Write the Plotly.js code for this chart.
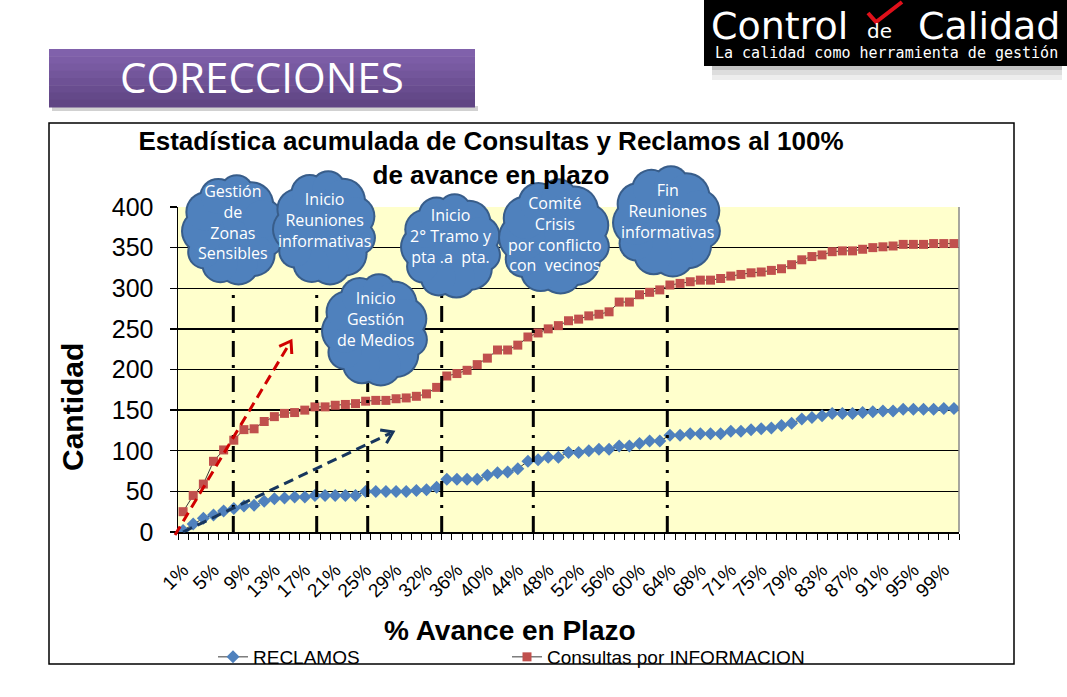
<!DOCTYPE html>
<html><head><meta charset="utf-8">
<script src="https://cdn.plot.ly/plotly-3.0.1.min.js"></script>
<style>html,body{margin:0;padding:0;background:#fff;}#chart{width:1067px;height:697px;}</style>
</head><body><div id="chart"></div>
<script>
// ---------- DATA ----------
const categories = ["1%","2%","4%","5%","6%","8%","9%","10%","12%","13%","14%","16%","17%","18%","20%","21%","22%","24%","25%","26%","28%","29%","30%","31%","32%","33%","35%","36%","37%","39%","40%","41%","43%","44%","45%","47%","48%","49%","51%","52%","53%","55%","56%","57%","59%","60%","61%","63%","64%","65%","67%","68%","69%","70%","71%","72%","74%","75%","76%","78%","79%","80%","82%","83%","84%","86%","87%","88%","90%","91%","92%","94%","95%","96%","98%","99%","100%"];
const reclamos = [2,10,17,21,26,29,32,33,38,41,42,43,43,45,45,45,45,45,50,50,50,50,50,51,52,55,65,65,65,65,70,73,74,78,87,89,92,92,98,98,100,102,102,106,106,109,112,112,119,119,121,121,121,121,124,124,126,127,128,131,134,139,141,143,146,146,146,147,148,149,149,151,151,151,151,152,152];
const consultas = [25,45,59,87,101,113,126,127,136,142,146,147,150,154,154,156,157,158,161,162,162,164,165,167,170,178,192,195,199,206,214,224,224,230,240,245,250,254,260,262,266,268,271,283,283,292,295,298,304,306,308,310,310,312,315,317,319,320,322,324,329,335,339,341,345,346,346,348,350,351,352,354,354,354,355,355,355];
const shownLabels = ["1%","5%","9%","13%","17%","21%","25%","29%","32%","36%","40%","44%","48%","52%","56%","60%","64%","68%","71%","75%","79%","83%","87%","91%","95%","99%"];
const seriesNames = ["RECLAMOS","Consultas por INFORMACION"];
const chartTitle = "Estadística acumulada de Consultas y Reclamos al 100%<br>de avance en plazo";
const xTitle = "% Avance en Plazo";
const yTitle = "Cantidad";
const cloudTexts = ["Gestión<br>de<br>Zonas<br>Sensibles","Inicio<br>Reuniones<br>informativas","Inicio<br>Gestión<br>de Medios","Inicio<br>2° Tramo y<br>pta .a  pta.","Comité<br>Crisis<br>por conflicto<br>con  vecinos","Fin<br>Reuniones<br>informativas"];

// ---------- GEOMETRY HELPERS (pixel -> paper) ----------
const PL=178, PR=959, PT=207, PB=532;
function px(x){return (x-PL)/(PR-PL);}
function py(y){return (PB-y)/(PB-PT);}
function rect(x0,y0,x1,y1,fill,line,opacity){
  return {type:'rect',xref:'paper',yref:'paper',x0:px(x0),x1:px(x1),y0:py(y1),y1:py(y0),
    fillcolor:fill||'rgba(0,0,0,0)',line:line||{width:0},opacity:opacity==null?1:opacity,layer:'above'};
}
function ell(cx,cy,rx,ry,fill){
  return {type:'circle',xref:'paper',yref:'paper',x0:px(cx-rx),x1:px(cx+rx),y0:py(cy+ry),y1:py(cy-ry),
    fillcolor:fill,line:{width:0},layer:'above'};
}
function cloud(b,fill,border){
  const [x0,y0,x1,y1]=b, cx=(x0+x1)/2, cy=(y0+y1)/2, rx=(x1-x0)/2, ry=(y1-y0)/2;
  const r=Math.min(rx,ry)*0.36, N=11, cs=[{cx,cy,rx:rx-r*0.55,ry:ry-r*0.55}];
  for(let k=0;k<N;k++){
    const a=2*Math.PI*k/N+0.25, rr=r*(0.85+0.3*((k*7)%4)/3);
    cs.push({cx:cx+(rx-rr)*Math.cos(a),cy:cy+(ry-rr)*Math.sin(a),rx:rr,ry:rr});
  }
  const out=[];
  cs.forEach(c=>out.push(ell(c.cx,c.cy,c.rx+2,c.ry+2,border)));
  cs.forEach(c=>out.push(ell(c.cx,c.cy,c.rx,c.ry,fill)));
  return out;
}
function arrow(x0,y0,x1,y1,color){
  const dx=x1-x0, dy=y1-y0, L=Math.hypot(dx,dy), ux=dx/L, uy=dy/L, h=13, t=0.6;
  const a1=[x1-h*(ux*Math.cos(t)-uy*Math.sin(t)), y1-h*(uy*Math.cos(t)+ux*Math.sin(t))];
  const a2=[x1-h*(ux*Math.cos(-t)-uy*Math.sin(-t)), y1-h*(uy*Math.cos(-t)+ux*Math.sin(-t))];
  return [
    {type:'line',xref:'paper',yref:'paper',x0:px(x0),y0:py(y0),x1:px(x1-ux*3),y1:py(y1-uy*3),line:{color,width:3,dash:'10px,6px'},layer:'above'},
    {type:'path',xref:'paper',yref:'paper',path:`M${px(a1[0])},${py(a1[1])} L${px(x1)},${py(y1)} L${px(a2[0])},${py(a2[1])}`,line:{color,width:3},layer:'above'}
  ];
}

// ---------- TRACES ----------
const traces = [
  {x:categories,y:reclamos,name:seriesNames[0],type:'scatter',mode:'lines+markers',legend:'legend',
   line:{color:'#3a3a3a',width:1},marker:{symbol:'diamond',size:10,color:'#4F81BD'}},
  {x:categories,y:consultas,name:seriesNames[1],type:'scatter',mode:'lines+markers',legend:'legend2',
   line:{color:'#3a3a3a',width:1},marker:{symbol:'square',size:9,color:'#C0504D'}}
];

// ---------- DECORATIONS ----------
const shapes=[];
shapes.push(rect(49,123,1014,664,null,{color:'#000',width:1.5}));
shapes.push({type:'line',xref:'paper',yref:'paper',x0:1,x1:1,y0:0,y1:1,line:{color:'#888',width:1.5},layer:'above'});
shapes.push(rect(52,106,478,111,'#999',null,0.45));
const grad=['#8061AB','#7C5DA6','#785AA1','#73569B','#6E5195','#694D8F','#644989','#604584'];
for(let i=0;i<grad.length;i++){ const h=(107-49)/grad.length; shapes.push(rect(49,49+i*h,475,49+(i+1)*h+0.5,grad[i])); }
shapes.push(rect(712,66,1062,70,'#888',null,0.5));
shapes.push(rect(712,70,1062,75,'#aaa',null,0.4));
shapes.push(rect(712,75,1062,80,'#ccc',null,0.35));
shapes.push(rect(704,0,1067,66,'#000'));
shapes.push({type:'path',xref:'paper',yref:'paper',path:`M${px(868)},${py(13)} L${px(876)},${py(22)} L${px(902)},${py(2)}`,line:{color:'#E0101A',width:4},layer:'above'});
[233.3,316.7,367.7,441.7,533.3,667.3].forEach(x=>{
  shapes.push({type:'line',xref:'paper',yref:'paper',x0:px(x),x1:px(x),y0:0,y1:py(288),
    line:{color:'#000',width:3,dash:'16px,8px,3px,8px'},layer:'above'});
});
shapes.push(...arrow(175,535,291,341,'#D00000'));
shapes.push(...arrow(183,532,393,432,'#17365D'));
const cloudBoxes=[[183,176,283,284],[274,172,375,284],[323,275,427,385],[402,195,500,297],[500,180,609,293],[614,167,720,276]];
const cloudCenters=[[233,222],[324,220],[375,319],[451,236],[555,234],[667,211]];
cloudBoxes.forEach(b=>shapes.push(...cloud(b,'#4F81BD','#385D8A')));

// ---------- ANNOTATIONS ----------
const ann=[];
ann.push({xref:'paper',yref:'paper',x:px(262),y:py(76),text:'CORECCIONES',showarrow:false,xanchor:'center',yanchor:'middle',
  font:{family:'Open Sans, sans-serif',size:42,color:'#fff'}});
ann.push({xref:'paper',yref:'paper',x:px(709),y:py(26),text:'Control',showarrow:false,xanchor:'left',yanchor:'middle',
  font:{family:'DejaVu Sans, sans-serif',size:38,color:'#fff'}});
ann.push({xref:'paper',yref:'paper',x:px(879),y:py(31),text:'de',showarrow:false,xanchor:'center',yanchor:'middle',
  font:{family:'DejaVu Sans, sans-serif',size:20,color:'#fff'}});
ann.push({xref:'paper',yref:'paper',x:px(1062),y:py(26),text:'Calidad',showarrow:false,xanchor:'right',yanchor:'middle',
  font:{family:'DejaVu Sans, sans-serif',size:38,color:'#fff'}});
ann.push({xref:'paper',yref:'paper',x:px(886),y:py(53),text:'La calidad como herramienta de gestión',showarrow:false,xanchor:'center',yanchor:'middle',
  font:{family:'DejaVu Sans Mono, monospace',size:15,color:'#fff'}});
ann.push({xref:'paper',yref:'paper',x:px(72),y:py(407),text:'<b>'+yTitle+'</b>',showarrow:false,textangle:-90,xanchor:'center',yanchor:'middle',
  font:{family:'Liberation Sans, Arial, sans-serif',size:30,color:'#000'}});
ann.push({xref:'paper',yref:'paper',x:px(510),y:py(630),text:'<b>'+xTitle+'</b>',showarrow:false,xanchor:'center',yanchor:'middle',
  font:{family:'Liberation Sans, Arial, sans-serif',size:28,color:'#000'}});
cloudTexts.forEach((t,i)=>ann.push({xref:'paper',yref:'paper',x:px(cloudCenters[i][0]),y:py(cloudCenters[i][1]),text:t,showarrow:false,
  xanchor:'center',yanchor:'middle',align:'center',font:{family:'Open Sans, sans-serif',size:16,color:'#fff'}}));

// ---------- LAYOUT ----------
const legendBase={orientation:'h',xanchor:'left',y:py(657),yanchor:'middle',font:{size:19,color:'#000'},bgcolor:'rgba(0,0,0,0)'};
const layout={
  width:1067,height:697,
  margin:{l:PL,r:1067-PR,t:PT,b:697-PB,pad:0,autoexpand:false},
  paper_bgcolor:'#fff',plot_bgcolor:'#FFFFCC',
  font:{family:'Liberation Sans, Arial, sans-serif',color:'#000'},
  title:{text:'<b>'+chartTitle+'</b>',font:{size:26,color:'#000',family:'Liberation Sans, Arial, sans-serif'},
    xref:'paper',x:px(491),xanchor:'center',yref:'container',y:1-150/697,yanchor:'middle'},
  xaxis:{type:'category',range:[-0.5,categories.length-0.5],tickmode:'array',tickvals:categories,
    ticktext:categories.map(c=>shownLabels.includes(c)?c:''),tickangle:-45,ticks:'outside',ticklen:6,tickwidth:1,tickcolor:'#000',
    tickson:'boundaries',showgrid:false,showline:true,linecolor:'#000',linewidth:1.5,zeroline:false,
    tickfont:{size:19,color:'#000'},ticklabelstandoff:18,automargin:false,fixedrange:true},
  yaxis:{range:[0,400],tick0:0,dtick:50,ticks:'outside',ticklen:7,tickcolor:'#000',tickwidth:1.3,
    showgrid:true,gridcolor:'#000',gridwidth:1.3,showline:true,linecolor:'#000',linewidth:1.5,zeroline:false,
    tickfont:{size:25,color:'#000'},ticklabelstandoff:11,automargin:false,fixedrange:true},
  showlegend:true,
  legend:Object.assign({},legendBase,{x:px(213)}),
  legend2:Object.assign({},legendBase,{x:px(507)}),
  shapes,annotations:ann
};
Plotly.newPlot('chart',traces,layout,{displayModeBar:false,staticPlot:true});
</script></body></html>
